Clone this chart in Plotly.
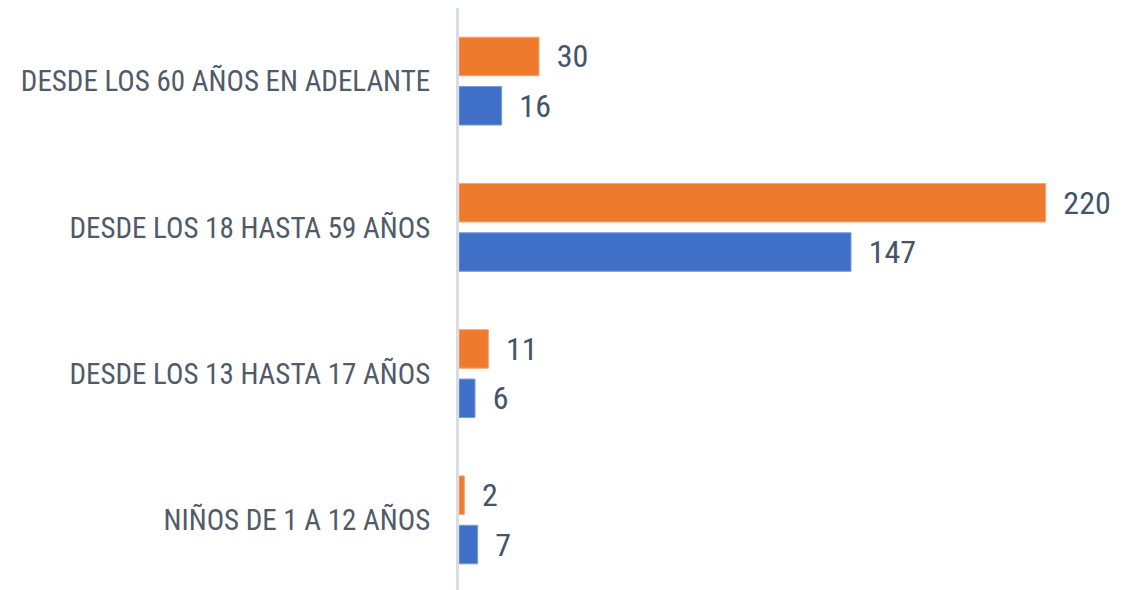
import plotly.graph_objects as go

categories = [
    "NIÑOS DE 1 A 12 AÑOS",
    "DESDE LOS 13 HASTA 17 AÑOS",
    "DESDE LOS 18 HASTA 59 AÑOS",
    "DESDE LOS 60 AÑOS EN ADELANTE",
]
blue_values = [7, 6, 147, 16]
orange_values = [2, 11, 220, 30]

FONT = "Liberation Sans Narrow, Roboto Condensed, Arial Narrow, sans-serif"

fig = go.Figure()
fig.add_trace(go.Bar(
    y=categories, x=blue_values, orientation="h",
    marker=dict(color="#3F6FC6", line=dict(color="#7A9BD8", width=1)),
    texttemplate="  %{x}", textposition="outside",
    textfont=dict(family=FONT, size=32, color="#44546A"),
    cliponaxis=False,
))
fig.add_trace(go.Bar(
    y=categories, x=orange_values, orientation="h",
    marker=dict(color="#EE7A2D", line=dict(color="#F4A470", width=1)),
    texttemplate="  %{x}", textposition="outside",
    textfont=dict(family=FONT, size=32, color="#44546A"),
    cliponaxis=False,
))

# the page body adds an 8px offset, so margins are shifted to compensate
fig.update_layout(
    width=1142, height=590,
    margin=dict(l=451, r=51, t=0, b=5),
    barmode="group", bargap=0.325, bargroupgap=0.22,
    plot_bgcolor="white", paper_bgcolor="white",
    showlegend=False,
    font=dict(family=FONT, color="#505A68"),
)
fig.update_xaxes(range=[0, 240], visible=False, automargin=False)
fig.update_yaxes(
    showline=True, linecolor="#D9DDE3", linewidth=3,
    showgrid=False, zeroline=False, automargin=False,
    ticks="", ticklabelstandoff=20,
    tickfont=dict(family=FONT, size=29, color="#505A68"),
)

fig.write_html("out.html")
